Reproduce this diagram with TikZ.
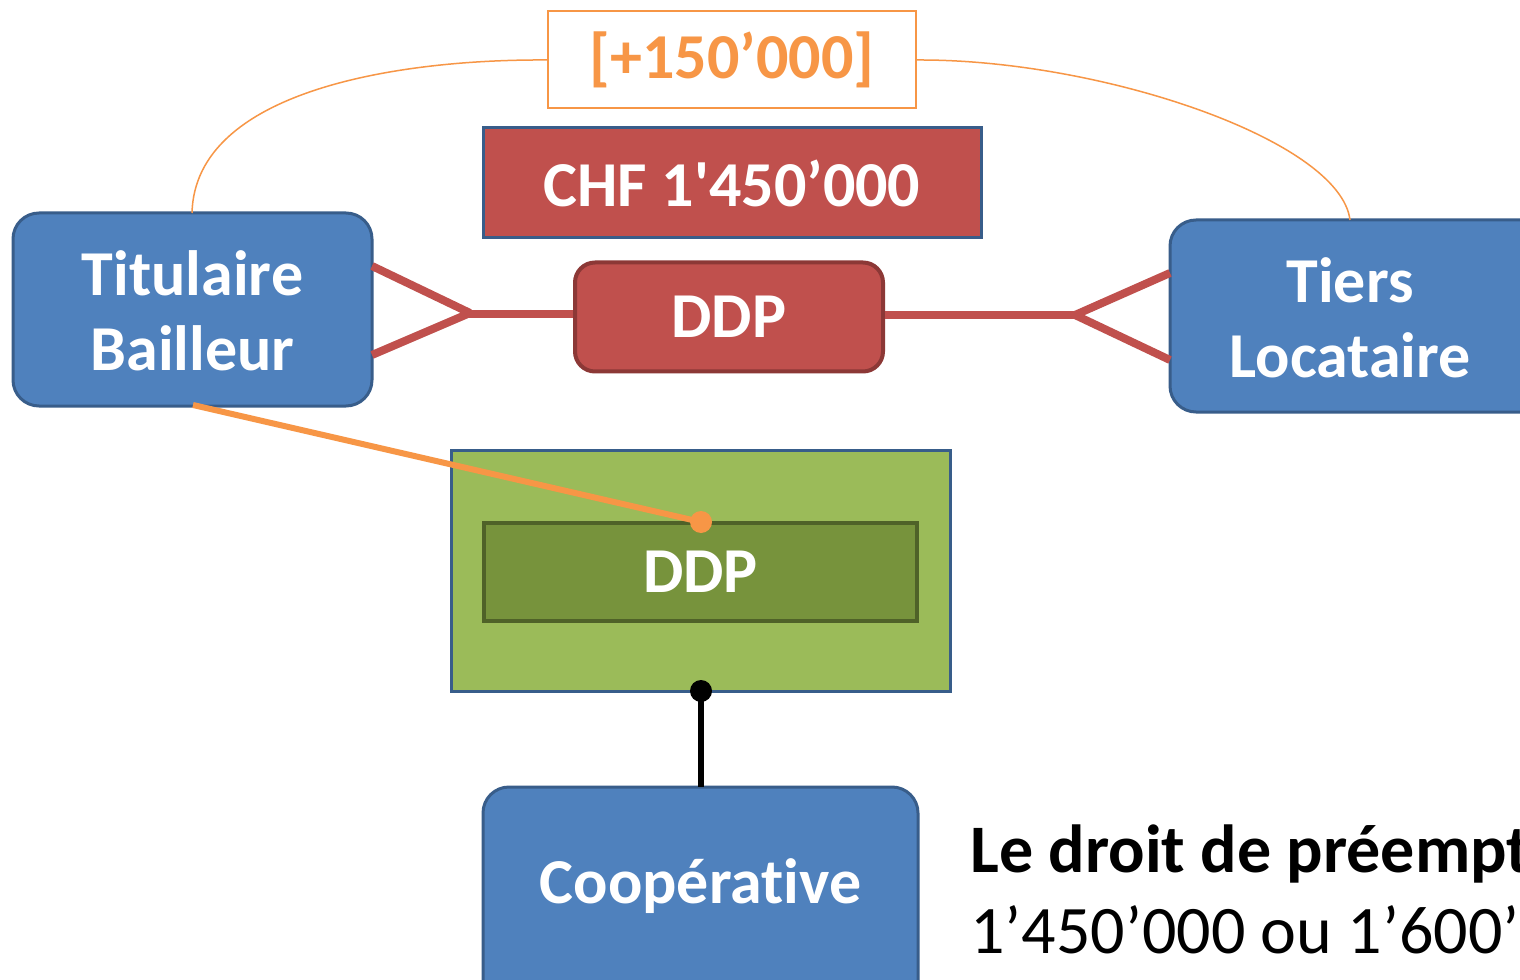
\documentclass[tikz,border=0pt]{standalone}
\usepackage{fontspec}
\newfontfamily\calfont{Carlito}[Ligatures=NoCommon]
\definecolor{blueF}{HTML}{4F81BD}
\definecolor{blueD}{HTML}{385D8A}
\definecolor{redF}{HTML}{C0504D}
\definecolor{redD}{HTML}{8C3836}
\definecolor{orangeF}{HTML}{F79646}
\definecolor{greenF}{HTML}{9BBB59}
\definecolor{greenM}{HTML}{77933C}
\definecolor{greenD}{HTML}{4F6228}
\tikzset{
  bluebox/.style={draw=blueD, fill=blueF, line width=2.25pt, rounded corners=19.5pt},
  lbl/.style={font=\calfont\bfseries\fontsize{48}{56}\selectfont, text=white},
  redline/.style={draw=redF, line width=6pt},
}
\begin{document}
\begin{tikzpicture}[x=0.75pt,y=-0.75pt]
\clip (0,0) rectangle (1520,980);
\useasboundingbox (0,0) rectangle (1520,980);
\fill[white] (0,0) rectangle (1520,980);
% boxes
\draw[bluebox] (13,213) rectangle (372,406);
\node[lbl, align=center] (tb) at (192.5,311) {Titulaire\\Bailleur};
\draw[bluebox] (1170,220) rectangle (1560,412);
\node[lbl, align=center] (tl) at (1350,318) {Tiers\\Locataire};
\coordinate (tbT) at (192,213);
\coordinate (tbB) at (193,405);
\coordinate (tlT) at (1350,220);

\node[draw=blueD, fill=redF, line width=2.25pt, minimum width=373.5pt, minimum height=82.5pt, inner sep=0pt, lbl] (chf) at (732,183) {CHF 1'450’000};
\node[draw=orangeF, fill=white, line width=1.5pt, minimum width=276pt, minimum height=72.75pt, inner sep=0pt, lbl, text=orangeF] (plus) at (732,60) {[+150’000]};
\node[draw=redD, fill=redF, line width=3pt, rounded corners=15pt, minimum width=231pt, minimum height=81.75pt, inner sep=0pt, lbl] (ddp) at (729,317) {DDP};

\node[draw=blueD, fill=greenF, line width=2.25pt, minimum width=374.25pt, minimum height=180.75pt, inner sep=0pt] (green) at (700.5,570.5) {};
\node[draw=greenD, fill=greenM, line width=3pt, minimum width=324.75pt, minimum height=73.5pt, inner sep=0pt, lbl] (ddp2) at (700.5,572) {DDP};

\draw[bluebox] (483,787) rectangle (918,1010);
\node[lbl] (coop) at (700.5,886) {Coopérative};
\coordinate (coopT) at (701,787);

% red connectors
\coordinate (jl) at (470,313);
\coordinate (jr) at (1075,315);
\draw[redline] (372,266) -- (jl);
\draw[redline] (372,355) -- (jl);
\draw[redline] (460,314) -- (ddp.west |- 0,314);
\draw[redline] (ddp.east |- 0,315) -- (jr);
\draw[redline] (jr) -- (1170,273);
\draw[redline] (jr) -- (1170,360);

% orange arcs
\draw[orangeF, line width=1.125pt] (tbT) .. controls (195,90) and (400,59) .. (plus.west);
\draw[orangeF, line width=1.125pt] (plus.east) .. controls (1100,59) and (1340,140) .. (tlT);

% orange link
\coordinate (od) at (701,522);
\draw[orangeF, line width=4.5pt] (tbB) -- (od);
\fill[orangeF] (od) circle (8.25pt);

% black link
\coordinate (bd) at (701,691);
\draw[black, line width=4.5pt] (bd) -- (coopT);
\fill[black] (bd) circle (8.25pt);

% text
\node[anchor=base west, inner sep=0pt, font=\calfont\bfseries\fontsize{51}{56}\selectfont] (t1) at (970,872) {Le droit de préemption};
\node[anchor=base west, inner sep=0pt, font=\calfont\fontsize{51}{56}\selectfont] (t2) at (970,953) {1’450’000 ou 1’600’000};
\end{tikzpicture}
\end{document}
